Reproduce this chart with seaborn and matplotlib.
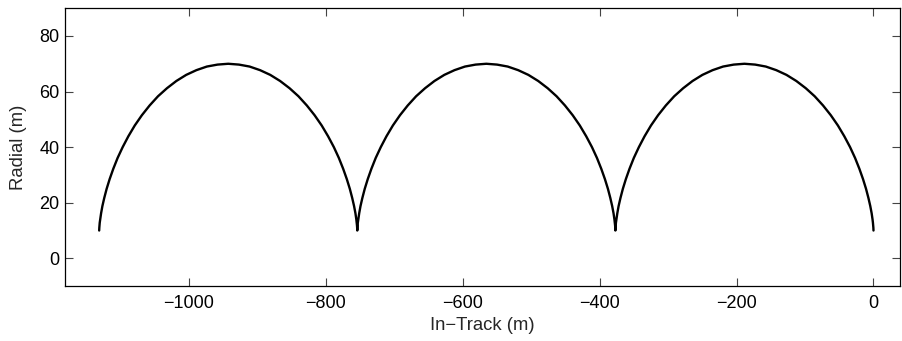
import matplotlib
matplotlib.use("Agg")
import matplotlib.pyplot as plt
import seaborn as sns
import pandas as pd

# Values (three arches, right to left)
in_track_arch1 = [0, -0.01, -0.05, -0.18, -0.42, -0.82, -1.4, -2.7, -4.7, -7.4, -10.9,
                  -15.3, -20.6, -26.9, -34.2, -42.6, -52.0, -62.4, -73.7, -85.9, -98.9,
                  -112.7, -127.1, -142.0, -157.3, -172.8, -188.5, -204.2, -219.7, -235.0,
                  -249.9, -264.3, -278.0, -291.1, -303.3, -314.6, -325.0, -334.4, -342.7,
                  -350.1, -356.4, -361.7, -366.1, -369.6, -372.3, -374.2, -375.6, -376.2,
                  -376.6, -376.8, -376.95, -376.99, -377.0]
radial_arch1 = [10.0, 10.1, 10.5, 11.0, 11.8, 12.8, 14.0, 16.2, 18.8, 21.7, 25.0,
                28.5, 32.2, 36.1, 40.0, 43.9, 47.8, 51.5, 55.0, 58.3, 61.2,
                63.8, 66.0, 67.7, 69.0, 69.7, 70.0, 69.7, 69.0, 67.7,
                66.0, 63.8, 61.2, 58.3, 55.0, 51.5, 47.8, 43.9, 40.0,
                36.1, 32.2, 28.5, 25.0, 21.7, 18.8, 16.2, 14.0, 12.8,
                11.8, 11.0, 10.5, 10.1, 10.0]

in_track_arch2 = [-377.01, -377.05, -377.18, -377.42, -377.82, -378.4, -379.7, -381.7,
                  -384.4, -387.9, -392.3, -397.6, -403.9, -411.2, -419.6, -429.0, -439.4,
                  -450.7, -462.9, -475.9, -489.7, -504.1, -519.0, -534.3, -549.8, -565.5,
                  -581.2, -596.7, -612.0, -626.9, -641.3, -655.0, -668.1, -680.3, -691.6,
                  -702.0, -711.4, -719.7, -727.1, -733.4, -738.7, -743.1, -746.6, -749.3,
                  -751.2, -752.6, -753.2, -753.6, -753.8, -753.95, -753.99, -754.0]
radial_arch2 = [10.1, 10.5, 11.0, 11.8, 12.8, 14.0, 16.2, 18.8,
                21.7, 25.0, 28.5, 32.2, 36.1, 40.0, 43.9, 47.8, 51.5,
                55.0, 58.3, 61.2, 63.8, 66.0, 67.7, 69.0, 69.7, 70.0,
                69.7, 69.0, 67.7, 66.0, 63.8, 61.2, 58.3, 55.0, 51.5,
                47.8, 43.9, 40.0, 36.1, 32.2, 28.5, 25.0, 21.7, 18.8,
                16.2, 14.0, 12.8, 11.8, 11.0, 10.5, 10.1, 10.0]

in_track_arch3 = [-754.01, -754.05, -754.18, -754.42, -754.82, -755.4, -756.7, -758.7,
                  -761.4, -764.9, -769.3, -774.6, -780.9, -788.2, -796.6, -806.0, -816.4,
                  -827.7, -839.9, -852.9, -866.7, -881.1, -896.0, -911.3, -926.8, -942.5,
                  -958.2, -973.7, -989.0, -1003.9, -1018.3, -1032.0, -1045.1, -1057.3,
                  -1068.6, -1079.0, -1088.4, -1096.7, -1104.1, -1110.4, -1115.7, -1120.1,
                  -1123.6, -1126.3, -1128.2, -1129.6, -1130.2, -1130.6, -1130.8, -1130.95,
                  -1130.99, -1131.0]
radial_arch3 = [10.1, 10.5, 11.0, 11.8, 12.8, 14.0, 16.2, 18.8,
                21.7, 25.0, 28.5, 32.2, 36.1, 40.0, 43.9, 47.8, 51.5,
                55.0, 58.3, 61.2, 63.8, 66.0, 67.7, 69.0, 69.7, 70.0,
                69.7, 69.0, 67.7, 66.0, 63.8, 61.2, 58.3, 55.0,
                51.5, 47.8, 43.9, 40.0, 36.1, 32.2, 28.5, 25.0,
                21.7, 18.8, 16.2, 14.0, 12.8, 11.8, 11.0, 10.5,
                10.1, 10.0]

x_ticks = [-1000, -800, -600, -400, -200, 0]
y_ticks = [0, 20, 40, 60, 80]
x_label = "In\u2212Track (m)"
y_label = "Radial (m)"

df = pd.DataFrame({
    "in_track": in_track_arch1 + in_track_arch2 + in_track_arch3,
    "radial": radial_arch1 + radial_arch2 + radial_arch3,
})

sns.set_theme(style="white")
plt.rcParams["font.family"] = ["Liberation Sans", "DejaVu Sans"]

fig = plt.figure(figsize=(9.02, 3.41), dpi=100)
ax = fig.add_axes([0.072, 0.161, 0.926, 0.815])

sns.lineplot(data=df, x="in_track", y="radial", sort=False, estimator=None,
             color="black", linewidth=1.7, ax=ax)

ax.set_xlim(-1181, 39)
ax.set_ylim(-10, 90)
ax.set_xticks(x_ticks)
ax.set_yticks(y_ticks)
ax.set_xticklabels([str(v).replace("-", "\u2212") for v in x_ticks])
ax.set_yticklabels([str(v) for v in y_ticks])
ax.set_xlabel(x_label, fontsize=13.3)
ax.set_ylabel(y_label, fontsize=13.3)
ax.xaxis.set_label_coords(0.5, -0.112)
ax.yaxis.set_label_coords(-0.046, 0.5)

for s in ax.spines.values():
    s.set_visible(True)
    s.set_color("black")
    s.set_linewidth(0.9)

ax.tick_params(direction="in", length=5.5, width=0.8, color="#444444",
               top=True, right=True, bottom=True, left=True,
               labelsize=13, labelcolor="black")
ax.tick_params(axis="x", pad=6.5)
ax.tick_params(axis="y", pad=4)

fig.savefig("out.png", dpi=100, facecolor="white")
